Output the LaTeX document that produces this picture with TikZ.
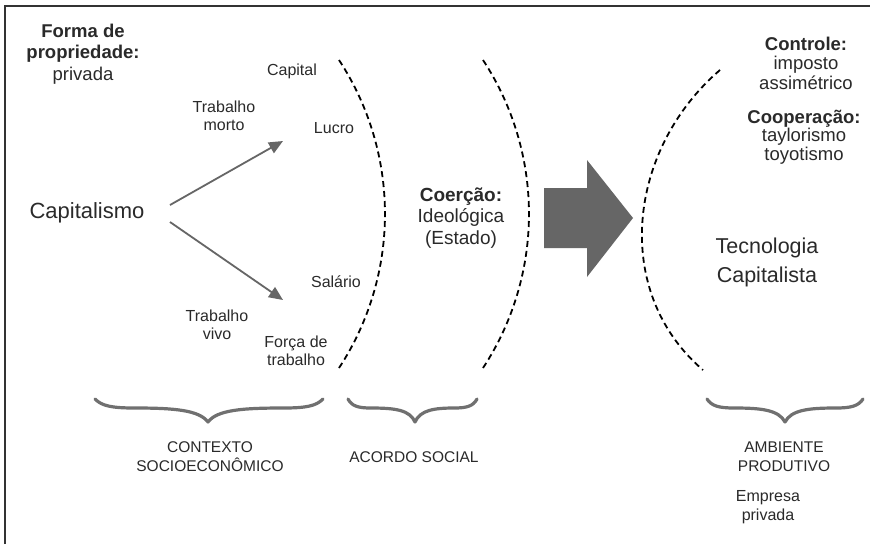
\documentclass[tikz,border=0pt]{standalone}
\usepackage{fontspec}
\setmainfont{Liberation Sans}
\usetikzlibrary{arrows.meta}
\definecolor{txt}{HTML}{2A2A2A}
\definecolor{arrowgray}{HTML}{666666}
\definecolor{bracegray}{HTML}{707070}
\definecolor{framegray}{HTML}{333333}
\newcommand{\drawCurlyBrace}[4]{%
  \draw[bracestyle] (#1,399)
    .. controls ({#1+0.06*#4},406) and ({#1+0.15*#4},408) .. ({#1+0.35*#4},408)
    .. controls ({#2-0.3*#4},408) and ({#2-0.08*#4},410) .. (#2,422)
    .. controls ({#2+0.08*#4},410) and ({#2+0.3*#4},408) .. ({#3-0.35*#4},408)
    .. controls ({#3-0.15*#4},408) and ({#3-0.06*#4},406) .. (#3,399);}
\begin{document}
\begin{tikzpicture}[x=1pt,y=-1pt,
  lbl/.style={inner sep=0pt, text=txt, align=center},
  smalllbl/.style={lbl, font=\fontsize{16}{18}\selectfont},
  headlbl/.style={lbl, font=\fontsize{18.5}{21.5}\selectfont},
  capslbl/.style={lbl, font=\fontsize{15.5}{19}\selectfont},
  thinarrow/.style={draw=arrowgray, line width=1.8pt, -{Triangle[length=14pt,width=12pt]}, color=arrowgray},
  dasharc/.style={draw=black, line width=1.8pt, dash pattern=on 6pt off 4pt},
  bracestyle/.style={draw=bracegray, line width=3.2pt, line cap=round, line join=round}
]
\useasboundingbox (0,0) rectangle (870,544);
\fill[white] (0,0) rectangle (870,544);
% frame
\draw[framegray, line width=1.5pt] (5,544) -- (5,6) -- (870,6);

% left texts
\node[headlbl] (forma) at (83,54) {\bfseries Forma de\\\bfseries propriedade:\\privada};
\node[lbl, font=\fontsize{22}{26}\selectfont] (capitalismo) at (87,213) {Capitalismo};
\node[smalllbl] (capital) at (292,71) {Capital};
\node[smalllbl] (tmorto) at (224,116) {Trabalho\\morto};
\node[smalllbl] (lucro) at (334,128) {Lucro};
\node[smalllbl] (salario) at (336,282) {Salário};
\node[smalllbl] (tvivo) at (217,325) {Trabalho\\vivo};
\node[smalllbl] (forca) at (296,351) {Força de\\trabalho};

% arrows
\coordinate (u0) at (170,205);
\coordinate (u1) at (283,141);
\coordinate (d0) at (170,222);
\coordinate (d1) at (283,300);
\draw[thinarrow] (u0) -- (u1);
\draw[thinarrow] (d0) -- (d1);

% dashed arcs
\draw[dasharc] (339,60) .. controls (400.3,153.5) and (400.3,274.5) .. (339,368);
\draw[dasharc] (483,60) .. controls (544.3,153.5) and (544.3,274.5) .. (483,368);
\draw[dasharc] (720,70) .. controls (628,149) and (611,291) .. (703,370);

% middle text
\node[lbl, font=\fontsize{19}{21.5}\selectfont] (coercao) at (461,218) {\bfseries Coerção:\\Ideológica\\(Estado)};

% big arrow
\fill[arrowgray] (544,188) -- (587,188) -- (587,160) -- (633,218) -- (587,277) -- (587,248) -- (544,248) -- cycle;

% right texts
\node[headlbl, font=\fontsize{18.5}{19.5}\selectfont] (controle) at (806,63) {\bfseries Controle:\\imposto\\assimétrico};
\node[headlbl, font=\fontsize{18.5}{18.5}\selectfont] (cooperacao) at (804,137) {\bfseries Cooperação:\\taylorismo\\toyotismo};
\node[lbl, font=\fontsize{21.5}{29}\selectfont] (tecnologia) at (767,262) {Tecnologia\\Capitalista};

% braces
\drawCurlyBrace{95}{208}{323}{113}
\drawCurlyBrace{348}{415}{477}{65}
\drawCurlyBrace{707}{785}{863}{78}

% bottom labels
\node[capslbl] (contexto) at (210,457) {CONTEXTO\\SOCIOECONÔMICO};
\node[capslbl] (acordo) at (414,457) {ACORDO SOCIAL};
\node[capslbl] (ambiente) at (784,457) {AMBIENTE\\PRODUTIVO};
\node[smalllbl, font=\fontsize{16}{19}\selectfont] (empresa) at (768,507) {Empresa\\privada};
\end{tikzpicture}
\end{document}
